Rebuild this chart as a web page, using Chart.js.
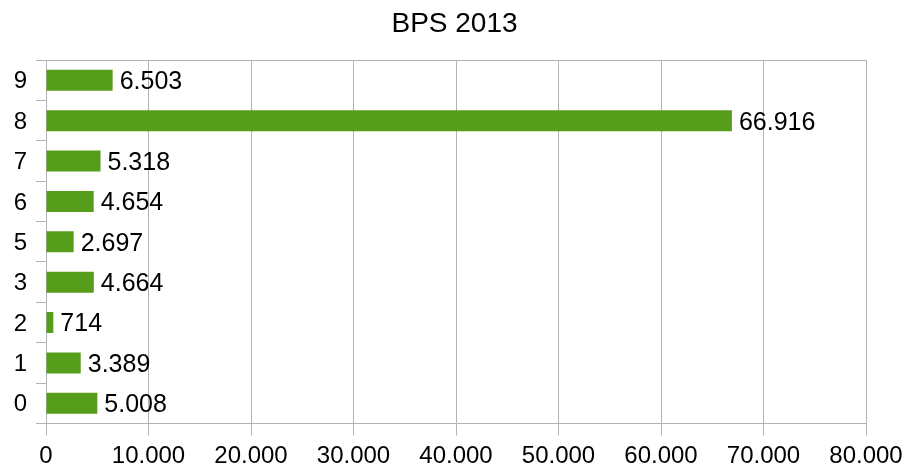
<!DOCTYPE html>
<html>
<head>
<meta charset="utf-8">
<script src="https://cdn.jsdelivr.net/npm/chart.js@4/dist/chart.umd.min.js"></script>
<style>
  html, body { margin: 0; padding: 0; background: #fff; }
  #wrap { width: 909px; height: 469px; }
</style>
</head>
<body>
<div id="wrap"><canvas id="chart" width="909" height="469"></canvas></div>
<script>
const categories = ["0", "1", "2", "3", "5", "6", "7", "8", "9"];
const bpsValues = [5008, 3389, 714, 4664, 2697, 4654, 5318, 66916, 6503];
const xTicks = [0, 10000, 20000, 30000, 40000, 50000, 60000, 70000, 80000];

const FONT = "'Liberation Sans', Arial, sans-serif";
const GRID = "#b3b3b3";

// 66916 -> "66.916"
const fmt = (v) => String(Math.round(v)).replace(/\B(?=(\d{3})+(?!\d))/g, ".");

const valueLabels = {
  id: "valueLabels",
  afterDatasetsDraw(chart) {
    const ctx = chart.ctx;
    const meta = chart.getDatasetMeta(0);
    ctx.save();
    ctx.font = "25px " + FONT;
    ctx.fillStyle = "#000";
    ctx.textBaseline = "middle";
    ctx.textAlign = "left";
    meta.data.forEach((bar, i) => {
      ctx.fillText(fmt(bpsValues[i]), bar.x + 7, bar.y + 2);
    });
    ctx.restore();
  },
  beforeDatasetsDraw(chart) {
    // top border of the plot area
    const a = chart.chartArea;
    const ctx = chart.ctx;
    ctx.save();
    ctx.strokeStyle = GRID;
    ctx.lineWidth = 1;
    ctx.beginPath();
    ctx.moveTo(a.left, Math.round(a.top) + 0.5);
    ctx.lineTo(a.right, Math.round(a.top) + 0.5);
    ctx.stroke();
    ctx.restore();
  }
};

new Chart(document.getElementById("chart"), {
  type: "bar",
  data: {
    labels: categories,
    datasets: [{
      label: "BPS 2013",
      data: bpsValues,
      backgroundColor: "#579d1c",
      borderWidth: 0,
      barPercentage: 0.52,
      categoryPercentage: 1.0
    }]
  },
  options: {
    indexAxis: "y",
    responsive: false,
    animation: false,
    layout: { padding: 0 },
    plugins: {
      legend: { display: false },
      tooltip: { enabled: false },
      title: {
        display: true,
        text: "BPS 2013",
        color: "#000",
        font: { family: FONT, size: 28, weight: "normal" },
        padding: { top: 7, bottom: 19.5 }
      }
    },
    scales: {
      x: {
        min: 0,
        max: 80000,
        afterBuildTicks(scale) {
          scale.ticks = xTicks.map((v) => ({ value: v }));
        },
        afterFit(scale) {
          scale.height = 45.5;
          scale.paddingRight = 43;
          scale.paddingLeft = 0;
        },
        grid: { color: GRID, tickLength: 12, tickColor: GRID },
        border: { color: GRID },
        ticks: {
          color: "#000",
          padding: 6.5,
          maxRotation: 0,
          font: { family: FONT, size: 24 },
          callback: (v) => fmt(v)
        }
      },
      y: {
        reverse: true,
        afterFit(scale) { scale.width = 46; },
        grid: { offset: true, drawOnChartArea: false, tickLength: 10, color: GRID },
        border: { color: GRID },
        ticks: {
          color: "#000",
          padding: 9,
          labelOffset: 1.5,
          font: { family: FONT, size: 24 }
        }
      }
    }
  },
  plugins: [valueLabels]
});
</script>
</body>
</html>
